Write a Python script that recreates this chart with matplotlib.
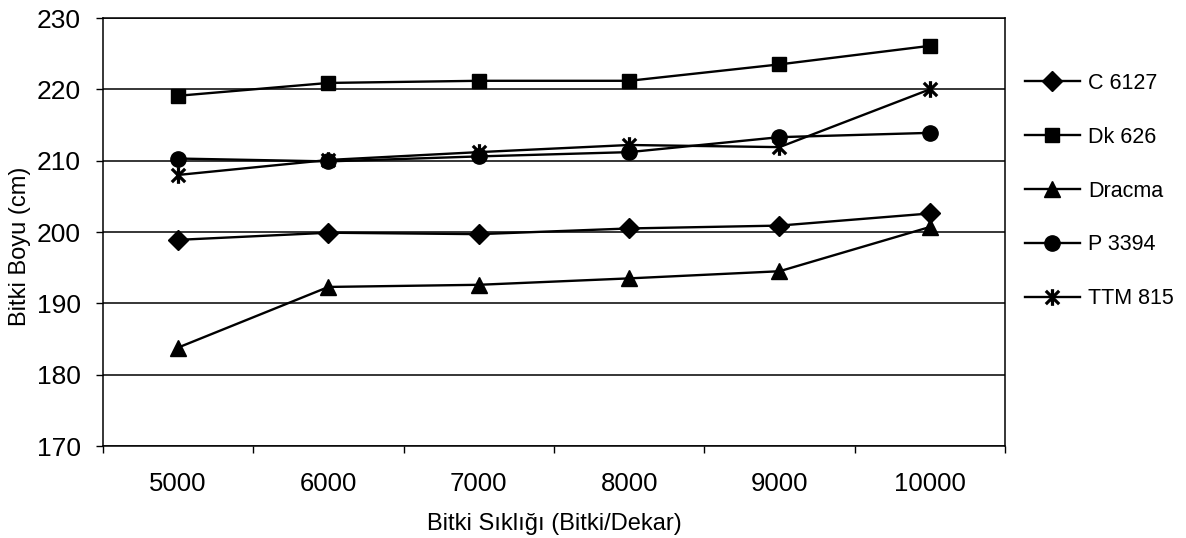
import numpy as np
import matplotlib
matplotlib.use("Agg")
import matplotlib.pyplot as plt
from matplotlib.path import Path

plt.rcParams['font.family'] = ['Liberation Sans', 'DejaVu Sans']

# veriler
siklik = ['5000', '6000', '7000', '8000', '9000', '10000']
c6127 = [198.9, 199.9, 199.7, 200.5, 200.9, 202.6]
dk626 = [219.1, 220.9, 221.2, 221.2, 223.5, 226.1]
dracma = [183.8, 192.3, 192.6, 193.5, 194.5, 200.7]
p3394 = [210.3, 209.9, 210.6, 211.2, 213.3, 213.9]
ttm815 = [208.0, 210.1, 211.2, 212.2, 211.9, 220.0]

# Excel tarzi yildiz isareti (x + dikey cizgi)
yildiz = Path([(-1, -1), (1, 1), (-1, 1), (1, -1), (0, -1.25), (0, 1.25)],
              [Path.MOVETO, Path.LINETO, Path.MOVETO, Path.LINETO, Path.MOVETO, Path.LINETO])

fig = plt.figure(figsize=(11.86, 5.38), dpi=100)
ax = fig.add_axes([0.0868, 0.171, 0.7606, 0.7955])

x = np.arange(len(siklik))
seriler = [
    ('C 6127', c6127, dict(marker='D', markersize=10)),
    ('Dk 626', dk626, dict(marker='s', markersize=10)),
    ('Dracma', dracma, dict(marker='^', markersize=11)),
    ('P 3394', p3394, dict(marker='o', markersize=11)),
    ('TTM 815', ttm815, dict(marker=yildiz, markersize=12, markeredgewidth=2.3)),
]
for ad, deger, stil in seriler:
    ax.plot(x, deger, color='black', linewidth=1.7, markerfacecolor='black',
            markeredgecolor='black', label=ad, zorder=3, **stil)

ax.set_xlim(-0.5, len(siklik) - 0.5)
ax.set_ylim(170, 230)
ax.set_yticks(np.arange(170, 231, 10))
ax.yaxis.grid(True, color='black', linewidth=1.1)
ax.set_axisbelow(True)

# kategori siniri tikleri, etiketler ortada
ax.set_xticks(np.arange(-0.5, len(siklik)), labels=[''] * (len(siklik) + 1))
ax.set_xticks(x, labels=siklik, minor=True)
ax.tick_params(axis='x', which='minor', length=0, pad=19, labelsize=18.5)
ax.tick_params(axis='x', which='major', length=5, direction='out', width=1)
ax.tick_params(axis='y', length=5, direction='out', width=1, labelsize=19, pad=11)

for s in ax.spines.values():
    s.set_color('black')
    s.set_linewidth(1.1)

ax.set_xlabel('Bitki Sıklığı (Bitki/Dekar)', fontsize=17, labelpad=12)
ax.set_ylabel('Bitki Boyu (cm)', fontsize=17)
ax.yaxis.set_label_coords(-0.08, 0.467)

fig.legend(loc='upper left', bbox_to_anchor=(0.857, 0.881), frameon=False,
           fontsize=15.5, handlelength=2.55, labelspacing=1.53, handletextpad=0.37,
           borderaxespad=0)

fig.savefig('out.png', dpi=100)
